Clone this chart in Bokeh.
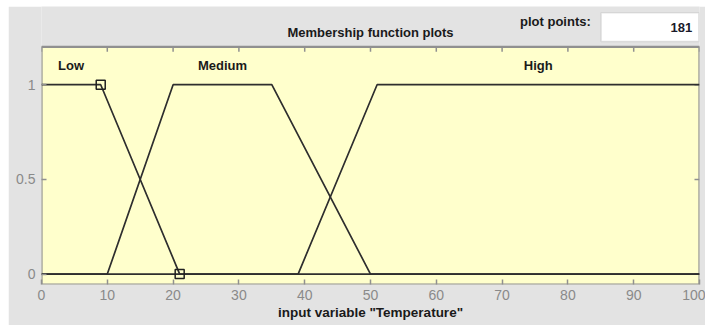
from bokeh.plotting import figure
from bokeh.models import Range1d, FixedTicker, Label, BoxAnnotation
from bokeh.embed import file_html
from bokeh.resources import INLINE

# ---- data ----
x_ticks = [0, 10, 20, 30, 40, 50, 60, 70, 80, 90, 100]
y_ticks = [0, 0.5, 1]
y_tick_labels = {0: "0", 0.5: "0.5", 1: "1"}

mf_names = ["Low", "Medium", "High"]
low_x = [0, 9, 21, 100]
low_y = [1, 1, 0, 0]
medium_x = [0, 10, 20, 35, 50, 100]
medium_y = [0, 0, 1, 1, 0, 0]
high_x = [0, 39, 51, 100]
high_y = [0, 0, 1, 1]
# label centres (centre of each MF plateau)
label_x = [4.5, 27.5, 75.5]
label_y = [1.10, 1.10, 1.10]
# selected MF vertices (Low)
sel_x = [9, 21]
sel_y = [1, 0]
plot_points = "181"

X_MIN, X_MAX = 0, 100
Y_MIN, Y_MAX = -0.055, 1.2      # axes box limits
Y_CANVAS_TOP = 1.413            # frame extends up to the header area

FONT = "Liberation Sans"
LINE = "#2e2e2e"
GRAYTXT = "#8a8a8a"
GRAYLINE = "#909090"
BG = "#e3e3e3"

p = figure(width=697, height=319, output_backend="svg", toolbar_location=None,
           x_range=Range1d(X_MIN, X_MAX), y_range=Range1d(Y_MIN, Y_CANVAS_TOP),
           min_border_left=33, min_border_right=6, min_border_top=0, min_border_bottom=41)
p.margin = (6, 0, 0, 8)
p.background_fill_color = BG
p.border_fill_color = BG
p.outline_line_color = None
p.grid.visible = False

# axes box (yellow)
p.quad(left=[X_MIN], right=[X_MAX], bottom=[Y_MIN], top=[Y_MAX],
       fill_color="#ffffcc", line_color=GRAYLINE, line_width=2.2)

# inward ticks on top and right edges
tick_dy = 5 / 189.7
tick_dx = 5 / 6.58
p.segment(x0=x_ticks, x1=x_ticks, y0=[Y_MAX] * len(x_ticks), y1=[Y_MAX - tick_dy] * len(x_ticks),
          line_color=GRAYLINE, line_width=1.5)
p.segment(x0=[X_MAX] * len(y_ticks), x1=[X_MAX - tick_dx] * len(y_ticks), y0=y_ticks, y1=y_ticks,
          line_color=GRAYLINE, line_width=1.5)

for xs, ys in [(low_x, low_y), (medium_x, medium_y), (high_x, high_y)]:
    p.line(xs, ys, line_color=LINE, line_width=1.7)
p.scatter(sel_x, sel_y, marker="square", size=9, fill_color=None,
          line_color="#202020", line_width=1.5)

for name, lx, ly in zip(mf_names, label_x, label_y):
    p.add_layout(Label(x=lx, y=ly, text=name, text_align="center", text_baseline="middle",
                       text_font=FONT, text_font_size="13px", text_font_style="bold",
                       text_color="#1a1a1a"))

xa = p.xaxis[0]
xa.ticker = FixedTicker(ticks=x_ticks, minor_ticks=[])
ya = p.yaxis[0]
ya.ticker = FixedTicker(ticks=y_ticks, minor_ticks=[])
for ax in (xa, ya):
    ax.major_tick_in = 5
    ax.major_tick_out = 0
    ax.major_tick_line_color = GRAYLINE
    ax.major_tick_line_width = 1.5
    ax.minor_tick_line_color = None
    ax.axis_line_color = None
    ax.major_label_text_font = FONT
    ax.major_label_text_font_size = "14px"
    ax.major_label_text_color = GRAYTXT
xa.major_label_standoff = 5
ya.major_label_standoff = 6
ya.major_label_overrides = y_tick_labels
xa.axis_label = 'input variable "Temperature"'
xa.axis_label_text_font = FONT
xa.axis_label_text_font_size = "13.5px"
xa.axis_label_text_font_style = "bold"
xa.axis_label_text_color = "#1a1a1a"
xa.axis_label_standoff = 2

# header texts
p.add_layout(Label(x=50, y=1.276, text="Membership function plots", text_align="center",
                   text_baseline="middle", text_font=FONT, text_font_size="13px",
                   text_font_style="bold", text_color="#1a1a1a"))
p.add_layout(Label(x=78.1, y=1.334, text="plot points:", text_align="center",
                   text_baseline="middle", text_font=FONT, text_font_size="13px",
                   text_font_style="bold", text_color="#1a1a1a"))
p.add_layout(BoxAnnotation(left=85.05, right=99.9, bottom=1.228, top=1.38,
                           fill_color="white", fill_alpha=1.0,
                           line_color="#a8a8a8", line_width=1.5))
p.add_layout(Label(x=98.9, y=1.302, text=plot_points, text_align="right",
                   text_baseline="middle", text_font=FONT, text_font_size="13px",
                   text_font_style="bold", text_color="#1a1a2a"))

open("out.html", "w").write(file_html(p, INLINE))
